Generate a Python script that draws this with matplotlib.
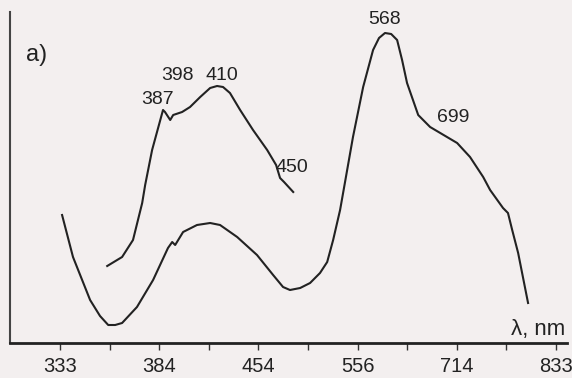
import matplotlib.pyplot as plt

plt.rcParams['font.family'] = ['Liberation Sans', 'DejaVu Sans']

# wavenumber axis, 10^3 cm^-1 (decreasing to the right)
tick_pos = [30, 28, 26, 24, 22, 20, 18, 16, 14, 12, 10]
label_pos = [30, 26, 22, 18, 14, 10]
tick_labels = ['333', '384', '454', '556', '714', '833']

# long curve
k1 = [29.92, 29.48, 28.79, 28.39, 28.06, 27.78, 27.50, 26.90, 26.25, 25.65,
      25.48, 25.36, 25.04, 24.48, 23.95, 23.55, 22.86, 22.06, 21.41, 21.01,
      20.73, 20.32, 19.92, 19.52, 19.23, 18.99, 18.71, 18.51, 18.19, 17.78,
      17.38, 17.14, 16.90, 16.65, 16.41, 16.21, 16.01, 15.56, 15.08, 13.99,
      13.47, 12.94, 12.66, 12.14, 11.94, 11.77, 11.53, 11.13]
a1 = [1.28, 0.86, 0.43, 0.27, 0.18, 0.18, 0.20, 0.36, 0.63, 0.95,
      1.01, 0.98, 1.11, 1.18, 1.20, 1.18, 1.06, 0.88, 0.68, 0.56,
      0.53, 0.55, 0.60, 0.70, 0.81, 1.03, 1.33, 1.61, 2.06, 2.56,
      2.93, 3.05, 3.10, 3.09, 3.03, 2.83, 2.60, 2.28, 2.16, 2.00,
      1.86, 1.66, 1.53, 1.35, 1.30, 1.13, 0.90, 0.40]

# short curve
k2 = [28.10, 27.50, 27.06, 26.69, 26.57, 26.29, 25.85, 25.77, 25.56, 25.44,
      25.08, 24.76, 24.35, 23.95, 23.67, 23.43, 23.15, 22.74, 22.22, 21.65,
      21.29, 21.13, 20.97, 20.60]
a2 = [0.77, 0.86, 1.03, 1.40, 1.58, 1.93, 2.33, 2.31, 2.23, 2.28,
      2.31, 2.36, 2.46, 2.55, 2.57, 2.56, 2.50, 2.33, 2.13, 1.93,
      1.78, 1.65, 1.61, 1.51]

peak_names = ['387', '398', '410', '450', '568', '699']
peak_k = [26.09, 25.28, 23.47, 20.65, 16.90, 14.15]
peak_a = [2.43, 2.67, 2.67, 1.76, 3.23, 2.25]

bg = '#f3efef'
fig = plt.figure(figsize=(5.72, 3.78), dpi=100, facecolor=bg)
ax = fig.add_axes([10 / 572, 35 / 378, 557 / 572, 331 / 378])
ax.set_facecolor(bg)

ax.plot(k1, a1, color='#222222', lw=1.5, solid_joinstyle='round')
ax.plot(k2, a2, color='#222222', lw=1.5, solid_joinstyle='round')

for name, k, a in zip(peak_names, peak_k, peak_a):
    ax.text(k, a, name, ha='center', va='center', fontsize=14, color='#222222')

ax.text(30.93, 2.88, 'a)', ha='center', va='center', fontsize=17, color='#222222')
ax.text(9.62, 0.13, 'λ, nm', ha='right', va='center', fontsize=16, color='#222222')

ax.set_xlim(32.02, 9.56)
ax.set_ylim(0, 3.31)

ax.set_xticks(tick_pos, minor=True)
ax.set_xticks(label_pos)
ax.set_xticklabels(tick_labels, fontsize=14.5, color='#222222')
ax.tick_params(axis='x', which='both', direction='out', length=5, width=1,
               color='#333333', pad=5)
ax.set_yticks([])

for s in ['top', 'right']:
    ax.spines[s].set_visible(False)
ax.spines['bottom'].set_linewidth(2)
ax.spines['left'].set_linewidth(1.5)
ax.spines['bottom'].set_color('#222222')
ax.spines['left'].set_color('#444444')

plt.savefig('out.png', dpi=100, facecolor=bg)
